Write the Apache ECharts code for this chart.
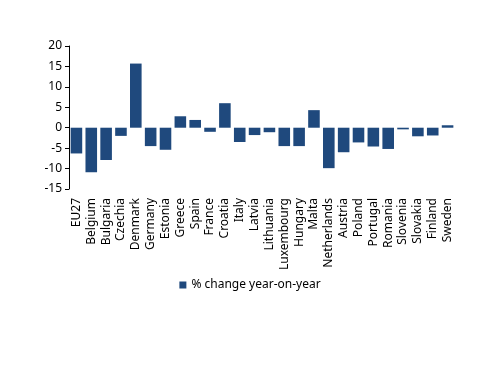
<!DOCTYPE html>
<html>
<head>
<meta charset="utf-8">
<script src="https://cdn.jsdelivr.net/npm/echarts@6/dist/echarts.min.js"></script>
<style>html,body{margin:0;padding:0;background:#fff;}#c{width:500px;height:386px;}</style>
</head>
<body>
<div id="c"></div>
<script>
const categories = ["EU27","Belgium","Bulgaria","Czechia","Denmark","Germany","Estonia","Greece","Spain","France","Croatia","Italy","Latvia","Lithuania","Luxembourg","Hungary","Malta","Netherlands","Austria","Poland","Portugal","Romania","Slovenia","Slovakia","Finland","Sweden"];
const changeYoY = [-6.3,-10.9,-7.9,-2.0,15.7,-4.5,-5.4,2.8,1.9,-1.0,6.0,-3.5,-1.8,-1.1,-4.5,-4.5,4.3,-9.9,-6.0,-3.6,-4.6,-5.2,-0.4,-2.1,-1.9,0.6];
const seriesName = "% change year-on-year";
const yTicks = {min:-15, max:20, interval:5};

const font = "Noto Sans";
const chart = echarts.init(document.getElementById('c'));
chart.setOption({
  animation:false,
  textStyle:{fontFamily:font},
  grid:{left:69, right:45, top:46, bottom:197, containLabel:false},
  legend:{
    data:[seriesName], top:274, left:'center', icon:'rect', itemWidth:7, itemHeight:7, itemGap:4,
    textStyle:{fontFamily:font, fontSize:12, color:'#000'}
  },
  xAxis:{
    type:'category', data:categories,
    axisLine:{show:false}, axisTick:{show:false},
    axisLabel:{rotate:90, interval:0, margin:9, fontFamily:font, fontSize:12, color:'#000'}
  },
  yAxis:{
    type:'value', min:yTicks.min, max:yTicks.max, interval:yTicks.interval,
    axisLine:{show:true, lineStyle:{color:'#000', width:1}},
    axisTick:{show:true, length:4, lineStyle:{color:'#000'}},
    splitLine:{show:false},
    axisLabel:{margin:7, fontFamily:font, fontSize:12, color:'#000'}
  },
  series:[{
    name:seriesName, type:'bar', data:changeYoY, barCategoryGap:'22%',
    itemStyle:{color:'#1F497D'}
  }]
});
</script>
</body>
</html>
